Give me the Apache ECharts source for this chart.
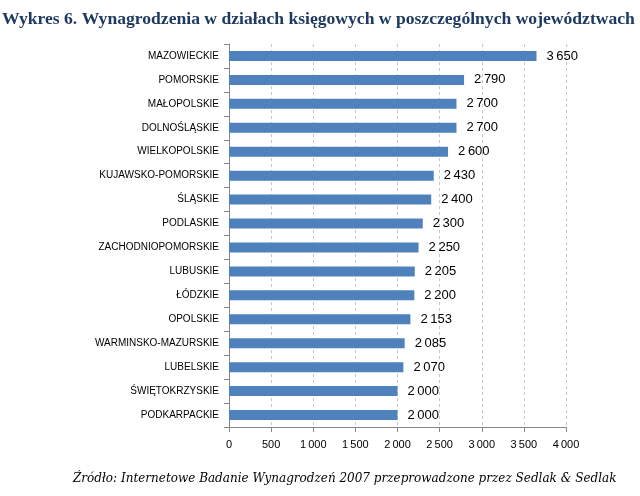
<!DOCTYPE html>
<html><head><meta charset="utf-8">
<script src="https://cdn.jsdelivr.net/npm/echarts@6/dist/echarts.min.js"></script>
<style>html,body{margin:0;padding:0;background:#fff}#c{width:640px;height:496px}</style>
</head><body><div id="c"></div>
<script>
const categories = ["MAZOWIECKIE","POMORSKIE","MAŁOPOLSKIE","DOLNOŚLĄSKIE","WIELKOPOLSKIE","KUJAWSKO-POMORSKIE","ŚLĄSKIE","PODLASKIE","ZACHODNIOPOMORSKIE","LUBUSKIE","ŁÓDZKIE","OPOLSKIE","WARMINSKO-MAZURSKIE","LUBELSKIE","ŚWIĘTOKRZYSKIE","PODKARPACKIE"];
const values = [3650,2790,2700,2700,2600,2430,2400,2300,2250,2205,2200,2153,2085,2070,2000,2000];
const titleText = "Wykres 6. Wynagrodzenia w działach księgowych w poszczególnych województwach";
const sourceText = "Źródło: Internetowe Badanie Wynagrodzeń 2007 przeprowadzone przez Sedlak & Sedlak";

function fmt(v){ const s=String(v); return s.length>3 ? s.slice(0,s.length-3)+"\u2009"+s.slice(-3) : s; }

const chart = echarts.init(document.getElementById('c'));
chart.setOption({
  animation:false,
  backgroundColor:'#fff',
  title:[
    {text:titleText,left:2,top:10,padding:0,textStyle:{fontFamily:'Liberation Serif',fontWeight:'bold',fontSize:17.6,color:'#1F3A60'}},
    {text:sourceText,left:73,top:473,padding:0,textStyle:{fontFamily:'DejaVu Serif',fontStyle:'italic',fontWeight:'normal',fontSize:12,color:'#000'}}
  ],
  grid:{left:229,right:74,top:44,bottom:69,containLabel:false},
  xAxis:{type:'value',min:0,max:4000,interval:500,
    axisLine:{show:true,lineStyle:{color:'#888'}},
    axisTick:{show:true,length:5,lineStyle:{color:'#888'}},
    splitLine:{show:true,lineStyle:{color:'#c8c8c8',type:[3,3]}},
    axisLabel:{formatter:fmt,fontFamily:'Liberation Sans',fontSize:11,color:'#000',margin:12}},
  yAxis:{type:'category',data:categories,inverse:true,
    axisLine:{show:true,lineStyle:{color:'#888'}},
    axisTick:{show:true,length:5,inside:false,lineStyle:{color:'#888'}},
    axisLabel:{fontFamily:'Liberation Sans',fontSize:10,color:'#000',margin:10}},
  series:[{type:'bar',data:values,barWidth:10,itemStyle:{color:'#4F81BD'},
    label:{show:true,position:'right',distance:10,formatter:p=>fmt(p.value),fontFamily:'Liberation Sans',fontSize:13,color:'#000'}}]
});
</script></body></html>
